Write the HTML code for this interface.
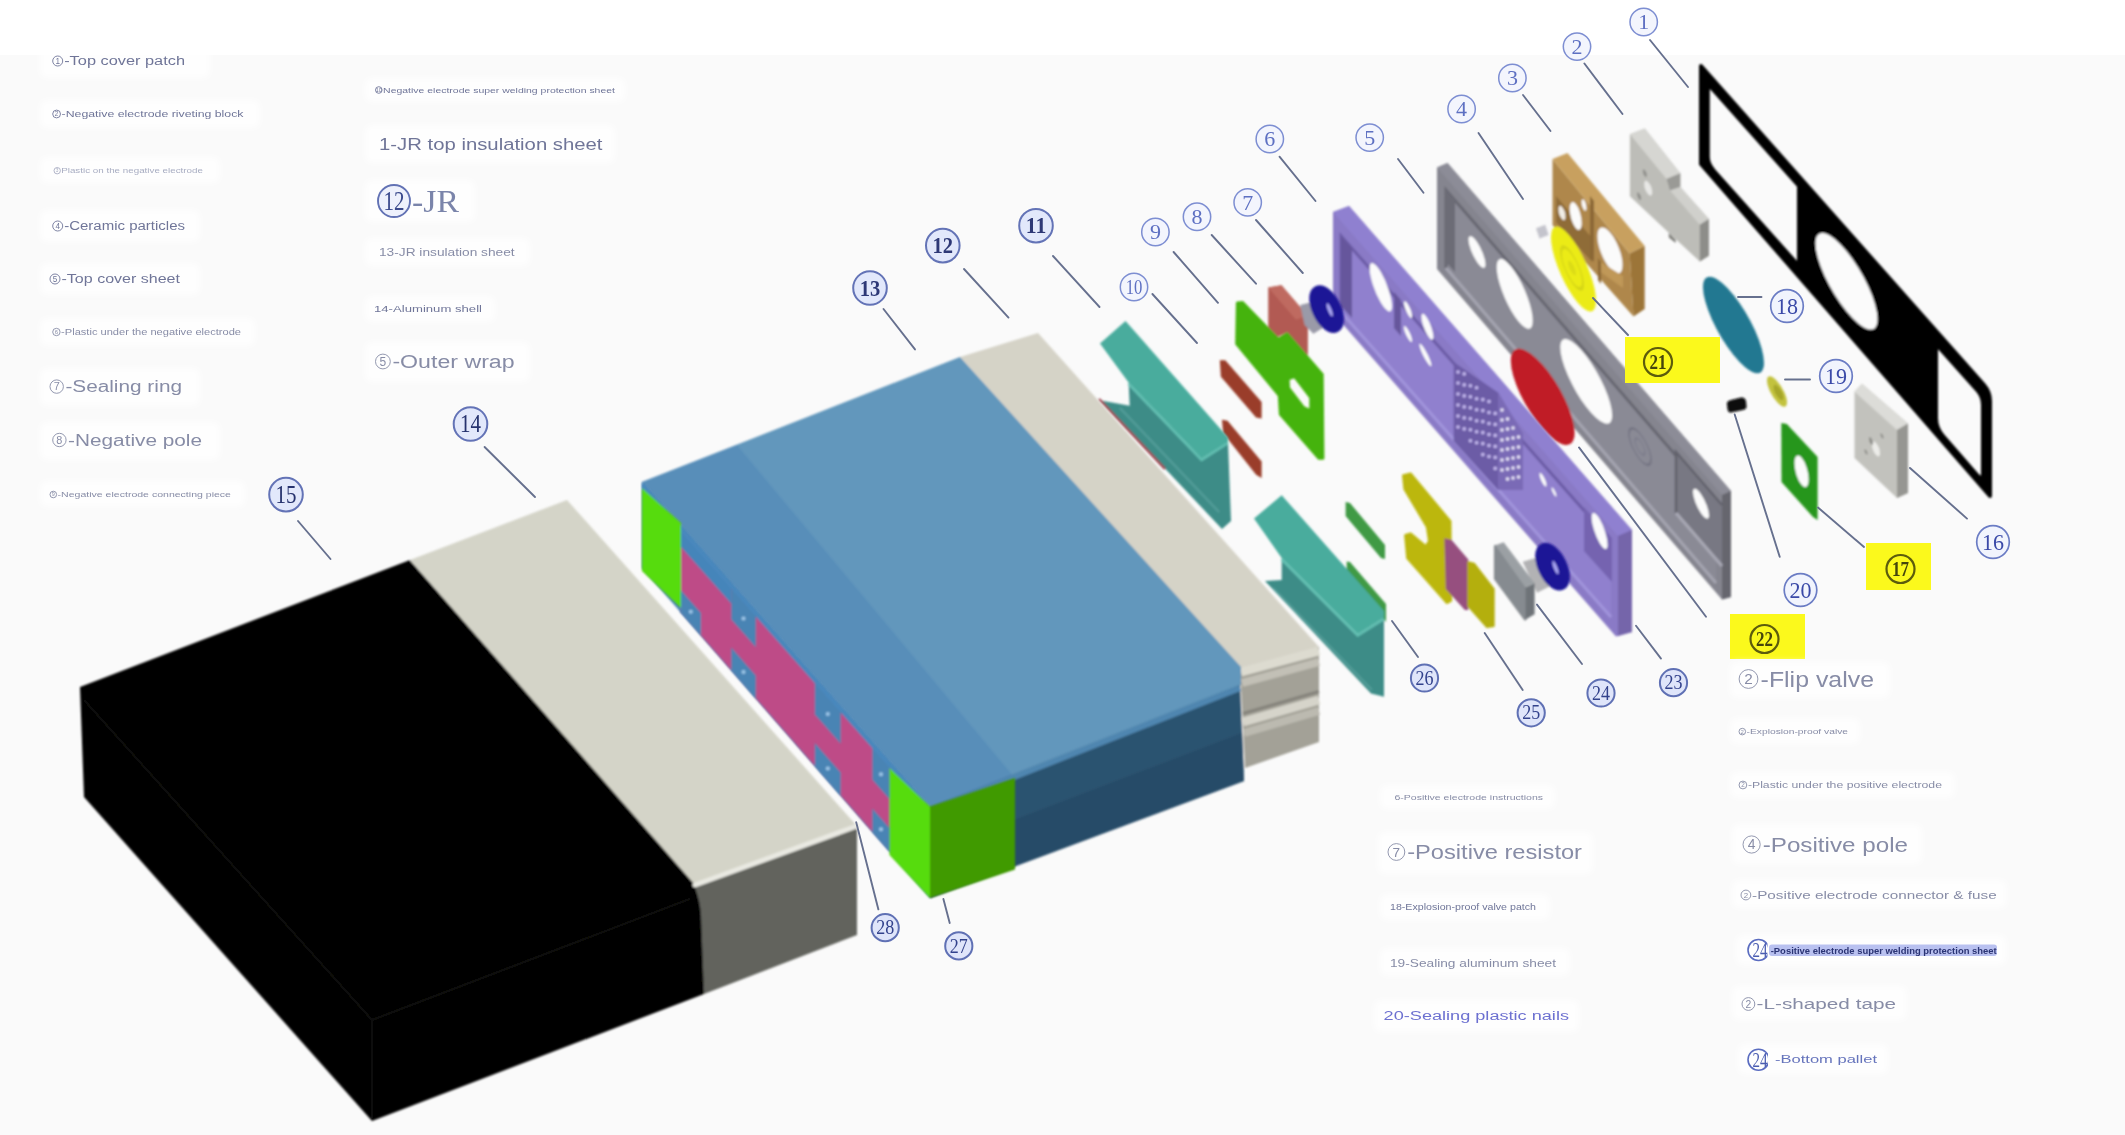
<!DOCTYPE html>
<html><head><meta charset="utf-8"><title>Cell exploded view</title>
<style>
html,body{margin:0;padding:0;background:#fff;}
body{width:2125px;height:1135px;overflow:hidden;font-family:"Liberation Sans",sans-serif;}
svg{display:block;}
text{font-family:"Liberation Sans",sans-serif;}
.se{font-family:"Liberation Serif",serif;}
</style></head><body>
<svg width="2125" height="1135" viewBox="0 0 2125 1135">
<defs>
<filter id="b1" x="-5%" y="-5%" width="110%" height="110%"><feGaussianBlur stdDeviation="0.9"/></filter>
<filter id="b2" x="-5%" y="-5%" width="110%" height="110%"><feGaussianBlur stdDeviation="1.2"/></filter>
<filter id="bt" x="-5%" y="-20%" width="110%" height="140%"><feGaussianBlur stdDeviation="0.55"/></filter>
<filter id="b3" x="-20%" y="-50%" width="140%" height="200%"><feGaussianBlur stdDeviation="3.5"/></filter>
</defs>
<rect x="0" y="0" width="2125" height="1135" fill="#ffffff"/>
<rect x="0" y="55" width="2125" height="1080" fill="#fafafa"/>
<g filter="url(#b1)">
<path fill-rule="evenodd" fill="#050505" stroke="#050505" stroke-width="4" stroke-linejoin="round" d="M1701,66 L1984,385 Q1990,392 1990,401 L1990,496 L1701,164 Z M1707.8,90 Q1707.8,84 1713,89.5 L1799,186 L1799,266 L1714,171 Q1707.8,164 1707.8,157 Z M1936,344 L1978,391 Q1983,397 1983,405 L1983,473 Q1983,482 1977,475 L1943,436 Q1936,428 1936,418 Z"/>
<circle r="1" transform="matrix(31.00,37.82,0,30.00,1846.5,281.3)" fill="#fbfbfb" />
<polygon points="1629.9,134.3 1644.8,128.6 1680.3,173.3 1680.3,187.0 1708.9,219.1 1708.9,255.7 1699.8,261.4 1668.8,232.8 1629.9,196.2" fill="#bdbdb8" />
<polygon points="1629.9,134.3 1644.8,128.6 1680.3,173.3 1666.6,179.0" fill="#d6d6d2" />
<polygon points="1666.6,179.0 1680.3,173.3 1680.3,187.0 1670.0,190.5" fill="#9a9a96" />
<polygon points="1670.0,190.5 1680.3,187.0 1708.9,219.1 1699.8,224.8" fill="#d0d0cc" />
<polygon points="1699.8,224.8 1708.9,219.1 1708.9,255.7 1699.8,261.4" fill="#8d8d89" />
<circle r="1" transform="matrix(4.00,4.40,0,6.00,1648.2,188.2)" fill="#e8e8e6" />
<circle r="1" transform="matrix(2.00,2.20,0,3.00,1639.1,196.2)" fill="#8f8f8b" />
<circle r="1" transform="matrix(2.00,2.20,0,3.00,1644.8,173.3)" fill="#8f8f8b" />
<polygon points="1668.8,232.8 1675.7,239.7 1675.7,243.1 1668.8,237.4" fill="#80807c" />
<polygon points="1552.5,159.0 1629.7,253.5 1633.5,316.5 1552.5,225.0" fill="#af874b" />
<polygon points="1552.5,159.0 1567.5,153.0 1644.7,246.0 1629.7,253.5" fill="#c8a05f" />
<polygon points="1629.7,253.5 1644.7,246.0 1644.7,309.0 1633.5,316.5" fill="#9c7438" />
<polygon points="1556.0,196.0 1592.0,238.0 1592.0,262.0 1556.0,222.0" fill="#8f6c38" />
<circle r="1" transform="matrix(6.00,6.90,0,12.00,1575.7,216.0)" fill="#fbfbfb" />
<circle r="1" transform="matrix(3.50,4.02,0,6.00,1562.0,213.0)" fill="#f1ede6" />
<circle r="1" transform="matrix(2.50,2.88,0,5.00,1584.0,205.0)" fill="#fbfbfb" />
<polygon points="1590.0,196.0 1594.0,201.0 1594.0,262.0 1590.0,258.0" fill="#8b6834" />
<circle r="1" transform="matrix(12.50,14.37,0,18.00,1610.0,250.5)" fill="#fbfbfb" />
<polygon points="1600.5,262.0 1623.0,276.0 1623.0,288.0 1600.5,272.0" fill="#c09858" />
<polygon points="1598.0,258.0 1601.0,262.0 1601.0,284.0 1598.0,280.0" fill="#8b6834" />
<polygon points="1536.0,228.2 1545.2,224.8 1548.6,235.1 1539.5,238.5" fill="#c4c4cc" />
<circle r="1" transform="matrix(22.50,31.72,0,28.30,1573.5,269.0)" fill="#ebeb16" />
<circle r="1" transform="matrix(11.00,15.51,0,14.00,1572.0,268.0)" fill="none" stroke="#d6d612" stroke-width="0.18"/>
<circle r="1" transform="matrix(4.00,5.64,0,5.00,1572.0,268.0)" fill="#dcdc12" />
<circle r="1" transform="matrix(30.50,37.82,0,30.00,1733.5,325.0)" fill="#237891" />
<circle r="1" transform="matrix(10.00,11.00,0,10.50,1777.0,391.5)" fill="#c2c23e" />
<circle r="1" transform="matrix(5.00,5.50,0,5.50,1778.5,392.5)" fill="#a6a62c" />
<path d="M1727,405 Q1726,401 1731,400 L1741,397.5 Q1745,397 1746,401 L1746.5,406 Q1747,409 1743,410 L1731,412.5 Q1728,413 1727.5,409 Z" fill="#0a0a0a"/>
<path fill-rule="evenodd" fill="#28961e" d="M1781.3,423 L1786.8,424 L1817.6,457 L1817.6,520 L1813,517 L1781.5,482 Z"/>
<circle r="1" transform="matrix(7.00,8.05,0,13.50,1801.6,471.3)" fill="#fbfbfb" />
<polygon points="1854.5,391.7 1862.0,383.8 1908.0,423.4 1908.0,493.0 1897.0,498.0 1854.5,458.0" fill="#c2c2bd" />
<polygon points="1854.5,391.7 1862.0,383.8 1908.0,423.4 1897.0,430.0" fill="#dcdcd8" />
<polygon points="1897.0,430.0 1908.0,423.4 1908.0,493.0 1897.0,498.0" fill="#969692" />
<circle r="1" transform="matrix(4.00,4.40,0,6.00,1876.0,449.0)" fill="#ecece9" />
<circle r="1" transform="matrix(2.00,2.20,0,3.00,1871.0,441.0)" fill="#8c8c88" />
<circle r="1" transform="matrix(1.50,1.65,0,2.00,1882.0,436.0)" fill="#8c8c88" />
<circle r="1" transform="matrix(1.50,1.65,0,2.00,1866.0,452.0)" fill="#8c8c88" />
</g>
<g filter="url(#b1)">
<polygon points="1437.0,167.5 1447.5,163.0 1731.0,491.0 1731.0,597.0 1722.0,599.5 1437.0,269.0" fill="#85858f" />
<polygon points="1437.0,167.5 1447.5,163.0 1731.0,491.0 1722.0,495.0" fill="#8c8c97" />
<polygon points="1722.0,495.0 1731.0,491.0 1731.0,597.0 1722.0,599.5" fill="#66666e" />
<polygon points="1446.0,190.0 1716.0,502.0 1716.0,583.0 1446.0,268.0" fill="#8a8a95" />
<path d="M1446,268 L1446,190 L1716,502" stroke="#686872" stroke-width="3" fill="none"/>
<path d="M1446,268 L1716,583" stroke="#a4a4b0" stroke-width="3" fill="none"/>
<polygon points="1446.0,190.0 1455.0,200.0 1455.0,272.0 1446.0,262.0" fill="#6c6c76" />
<circle r="1" transform="matrix(8.50,12.32,0,10.00,1477.0,252.0)" fill="#fbfbfb" />
<circle r="1" transform="matrix(18.00,26.82,0,22.40,1514.7,293.9)" fill="#fbfbfb" />
<circle r="1" transform="matrix(25.90,33.93,0,25.40,1586.2,381.4)" fill="#fbfbfb" />
<circle r="1" transform="matrix(11.00,12.71,0,13.00,1640.0,446.6)" fill="none" stroke="#767684" stroke-width="0.15"/>
<circle r="1" transform="matrix(5.00,5.78,0,6.00,1640.0,446.6)" fill="none" stroke="#7e7e8c" stroke-width="0.3"/>
<polygon points="1676.0,452.0 1722.0,505.0 1722.0,566.0 1676.0,513.0" fill="#787883" />
<path d="M1676,513 L1676,452 L1722,505" stroke="#62626c" stroke-width="2.5" fill="none"/>
<path d="M1676,513 L1722,566" stroke="#a8a8b4" stroke-width="3" fill="none"/>
<circle r="1" transform="matrix(8.00,11.60,0,9.50,1701.0,503.7)" fill="#fbfbfb" />
<circle r="1" transform="matrix(31.90,36.05,0,32.00,1542.7,396.8)" fill="#c01f27" />
</g>
<g filter="url(#b1)">
<polygon points="1333.0,212.0 1349.0,206.0 1632.0,530.0 1632.0,632.0 1616.0,636.5 1333.0,313.0" fill="#8a7ac6" />
<polygon points="1333.0,212.0 1349.0,206.0 1632.0,530.0 1618.0,536.0" fill="#8f80d0" />
<polygon points="1618.0,536.0 1632.0,530.0 1632.0,632.0 1618.0,636.0" fill="#7465aa" />
<polygon points="1341.0,236.0 1611.0,541.0 1611.0,617.0 1341.0,312.0" fill="#9080ce" />
<path d="M1341,312 L1341,236 L1611,541" stroke="#6c5ca6" stroke-width="3" fill="none"/>
<path d="M1341,312 L1611,617" stroke="#a194dc" stroke-width="3" fill="none"/>
<polygon points="1341.0,236.0 1352.0,248.0 1352.0,318.0 1341.0,306.0" fill="#66579c" />
<circle r="1" transform="matrix(11.20,18.93,0,15.20,1380.8,287.3)" fill="#fbfbfb" />
<polygon points="1394.0,292.0 1401.0,300.0 1401.0,336.0 1394.0,328.0" fill="#66579c" />
<circle r="1" transform="matrix(4.00,6.76,0,5.00,1408.0,309.6)" fill="#fbfbfb" />
<circle r="1" transform="matrix(6.00,10.14,0,8.20,1427.4,326.8)" fill="#fbfbfb" />
<circle r="1" transform="matrix(4.00,6.76,0,4.30,1408.0,334.0)" fill="#fbfbfb" />
<circle r="1" transform="matrix(6.00,10.14,0,4.60,1425.4,355.0)" fill="#fbfbfb" />
<polygon points="1453.7,362.0 1498.0,392.6 1522.6,433.0 1522.6,490.0 1498.0,490.0 1453.7,441.0" fill="#6c5ca6" />
<polygon points="1498.0,392.6 1522.6,433.0 1522.6,490.0 1498.0,490.0" fill="#7a6ab6" />
<circle cx="1458.0" cy="372.0" r="1.8" fill="#c6baf0"/>
<circle cx="1458.0" cy="383.0" r="1.8" fill="#c6baf0"/>
<circle cx="1458.0" cy="394.0" r="1.8" fill="#c6baf0"/>
<circle cx="1458.0" cy="405.0" r="1.8" fill="#c6baf0"/>
<circle cx="1458.0" cy="416.0" r="1.8" fill="#c6baf0"/>
<circle cx="1458.0" cy="427.0" r="1.8" fill="#c6baf0"/>
<circle cx="1464.2" cy="373.9" r="1.8" fill="#c6baf0"/>
<circle cx="1464.2" cy="384.9" r="1.8" fill="#c6baf0"/>
<circle cx="1464.2" cy="395.9" r="1.8" fill="#c6baf0"/>
<circle cx="1464.2" cy="406.9" r="1.8" fill="#c6baf0"/>
<circle cx="1464.2" cy="417.9" r="1.8" fill="#c6baf0"/>
<circle cx="1464.2" cy="428.9" r="1.8" fill="#c6baf0"/>
<circle cx="1470.4" cy="385.8" r="1.8" fill="#c6baf0"/>
<circle cx="1470.4" cy="396.8" r="1.8" fill="#c6baf0"/>
<circle cx="1470.4" cy="407.8" r="1.8" fill="#c6baf0"/>
<circle cx="1470.4" cy="418.8" r="1.8" fill="#c6baf0"/>
<circle cx="1470.4" cy="429.8" r="1.8" fill="#c6baf0"/>
<circle cx="1470.4" cy="440.8" r="1.8" fill="#c6baf0"/>
<circle cx="1476.6" cy="387.7" r="1.8" fill="#c6baf0"/>
<circle cx="1476.6" cy="398.7" r="1.8" fill="#c6baf0"/>
<circle cx="1476.6" cy="409.7" r="1.8" fill="#c6baf0"/>
<circle cx="1476.6" cy="420.7" r="1.8" fill="#c6baf0"/>
<circle cx="1476.6" cy="431.7" r="1.8" fill="#c6baf0"/>
<circle cx="1476.6" cy="442.7" r="1.8" fill="#c6baf0"/>
<circle cx="1482.8" cy="399.6" r="1.8" fill="#c6baf0"/>
<circle cx="1482.8" cy="410.6" r="1.8" fill="#c6baf0"/>
<circle cx="1482.8" cy="421.6" r="1.8" fill="#c6baf0"/>
<circle cx="1482.8" cy="432.6" r="1.8" fill="#c6baf0"/>
<circle cx="1482.8" cy="443.6" r="1.8" fill="#c6baf0"/>
<circle cx="1482.8" cy="454.6" r="1.8" fill="#c6baf0"/>
<circle cx="1489.0" cy="401.5" r="1.8" fill="#c6baf0"/>
<circle cx="1489.0" cy="412.5" r="1.8" fill="#c6baf0"/>
<circle cx="1489.0" cy="423.5" r="1.8" fill="#c6baf0"/>
<circle cx="1489.0" cy="434.5" r="1.8" fill="#c6baf0"/>
<circle cx="1489.0" cy="445.5" r="1.8" fill="#c6baf0"/>
<circle cx="1489.0" cy="456.5" r="1.8" fill="#c6baf0"/>
<circle cx="1495.2" cy="413.4" r="1.8" fill="#c6baf0"/>
<circle cx="1495.2" cy="424.4" r="1.8" fill="#c6baf0"/>
<circle cx="1495.2" cy="435.4" r="1.8" fill="#c6baf0"/>
<circle cx="1495.2" cy="446.4" r="1.8" fill="#c6baf0"/>
<circle cx="1495.2" cy="457.4" r="1.8" fill="#c6baf0"/>
<circle cx="1495.2" cy="468.4" r="1.8" fill="#c6baf0"/>
<circle cx="1502.0" cy="410.0" r="1.7" fill="#efeafc"/>
<circle cx="1502.0" cy="420.0" r="1.7" fill="#efeafc"/>
<circle cx="1502.0" cy="430.0" r="1.7" fill="#efeafc"/>
<circle cx="1502.0" cy="440.0" r="1.7" fill="#efeafc"/>
<circle cx="1502.0" cy="450.0" r="1.7" fill="#efeafc"/>
<circle cx="1502.0" cy="460.0" r="1.7" fill="#efeafc"/>
<circle cx="1502.0" cy="470.0" r="1.7" fill="#efeafc"/>
<circle cx="1507.5" cy="419.0" r="1.7" fill="#efeafc"/>
<circle cx="1507.5" cy="429.0" r="1.7" fill="#efeafc"/>
<circle cx="1507.5" cy="439.0" r="1.7" fill="#efeafc"/>
<circle cx="1507.5" cy="449.0" r="1.7" fill="#efeafc"/>
<circle cx="1507.5" cy="459.0" r="1.7" fill="#efeafc"/>
<circle cx="1507.5" cy="469.0" r="1.7" fill="#efeafc"/>
<circle cx="1507.5" cy="479.0" r="1.7" fill="#efeafc"/>
<circle cx="1513.0" cy="428.0" r="1.7" fill="#efeafc"/>
<circle cx="1513.0" cy="438.0" r="1.7" fill="#efeafc"/>
<circle cx="1513.0" cy="448.0" r="1.7" fill="#efeafc"/>
<circle cx="1513.0" cy="458.0" r="1.7" fill="#efeafc"/>
<circle cx="1513.0" cy="468.0" r="1.7" fill="#efeafc"/>
<circle cx="1513.0" cy="478.0" r="1.7" fill="#efeafc"/>
<circle cx="1518.5" cy="437.0" r="1.7" fill="#efeafc"/>
<circle cx="1518.5" cy="447.0" r="1.7" fill="#efeafc"/>
<circle cx="1518.5" cy="457.0" r="1.7" fill="#efeafc"/>
<circle cx="1518.5" cy="467.0" r="1.7" fill="#efeafc"/>
<circle cx="1518.5" cy="477.0" r="1.7" fill="#efeafc"/>
<circle r="1" transform="matrix(3.50,5.60,0,4.00,1543.0,479.7)" fill="#fbfbfb" />
<circle r="1" transform="matrix(2.50,4.00,0,2.50,1554.0,492.0)" fill="#fbfbfb" />
<polygon points="1584.0,507.0 1612.0,538.0 1612.0,582.0 1584.0,551.0" fill="#7464b0" />
<circle r="1" transform="matrix(8.00,13.52,0,11.90,1599.6,531.0)" fill="#fbfbfb" />
</g>
<g filter="url(#b1)">
<polygon points="1219.8,360.2 1225.3,360.2 1261.6,402.1 1261.6,418.6 1256.1,417.5 1220.9,376.7" fill="#9a3c2a" />
<polygon points="1222.0,419.7 1227.5,420.8 1261.6,461.6 1261.6,478.1 1256.1,474.8 1223.1,432.9" fill="#9a3c2a" />
<polygon points="1268.2,287.5 1281.5,285.3 1307.9,316.1 1307.9,355.8 1294.7,344.8 1287.0,332.6 1274.9,338.2 1268.2,327.1" fill="#b25a52" />
<polygon points="1268.2,287.5 1281.5,285.3 1307.9,316.1 1295.8,319.4" fill="#bf6a60" />
<polygon points="1300.2,305.1 1322.2,299.6 1331.1,322.7 1313.4,333.8 1304.6,324.9" fill="#9a9aa8" />
<ellipse cx="1326.6" cy="309.1" rx="10" ry="21" transform="rotate(-26 1326.6 309.1)" fill="#1e1496" stroke="#1e1496" stroke-width="9"/>
<ellipse cx="1329.7" cy="309.9" rx="1.8" ry="7" transform="rotate(-22 1329.7 309.9)" fill="#a9a6f2"/>
<path d="M1237.4,302.9 L1242.5,302.5 L1278.2,339.3 L1287.0,333.8 L1322.2,374.5 L1322.9,458.3 L1318.9,458.3 L1280.4,414.2 L1279.3,395.5 L1236.7,343.7 Z M1288.1,378.9 L1294.7,376.7 L1310.8,397.7 L1310.8,410.9 L1303.5,407.6 L1288.5,387.8 Z" fill="#45b30a" fill-rule="evenodd" stroke="#45b30a" stroke-width="3" stroke-linejoin="round"/>
</g>
<g filter="url(#b1)">
<polygon points="1403.5,475.6 1410.5,474.0 1450.0,521.4 1450.7,600.4 1447.0,602.5 1407.7,558.0 1405.6,535.5 1410.5,534.0 1426.0,546.8 1429.5,541.0 1427.4,527.0 1404.9,489.0" fill="#bcb70e" stroke="#bcb70e" stroke-width="3" stroke-linejoin="round"/>
<polygon points="1444.4,538.3 1451.4,539.7 1468.3,559.5 1468.3,610.0 1464.8,610.0 1445.8,589.0" fill="#96507f" />
<polygon points="1468.3,562.3 1474,563.7 1493.7,589 1493.7,626 1487,627 1468.3,606" fill="#b4af0c" stroke="#b4af0c" stroke-width="2" stroke-linejoin="round"/>
<polygon points="1522.7,561.8 1546.5,554.7 1556.0,583.2 1537.0,592.7" fill="#b2b2b4" />
<polygon points="1495.4,546.3 1525.1,588.0 1525.1,618.9 1495.4,578.5" fill="#868b90" stroke="#868b90" stroke-width="3" stroke-linejoin="round"/>
<polygon points="1495.4,545.2 1503.7,542.3 1534.6,583.2 1525.6,587.5" fill="#9ba0a4" />
<polygon points="1525.6,587.5 1534.6,583.2 1534.6,614.2 1525.6,619.4" fill="#6e7378" />
<ellipse cx="1552.5" cy="566.6" rx="10" ry="21" transform="rotate(-26 1552.5 566.6)" fill="#1e1496" stroke="#1e1496" stroke-width="9"/>
<ellipse cx="1555.5" cy="567.6" rx="1.8" ry="7" transform="rotate(-22 1555.5 567.6)" fill="#a9a6f2"/>
</g>
<g filter="url(#b1)">
<polygon points="1128.6,382.5 1201.6,458.6 1228.0,441.7 1231.0,521.0 1222.0,529.0 1101.0,400.5 1129.7,405.7" fill="#3c8c87" />
<polygon points="1125.5,321.0 1228.0,437.5 1228.0,442.0 1201.6,458.6 1128.6,382.5 1100.0,343.4" fill="#48ac9d" />
<path d="M1128.6,384 L1201.6,460 L1228,443" stroke="#62c0b2" stroke-width="2.5" fill="none"/>
<path d="M1120,408 L1219,512" stroke="#559e9a" stroke-width="2" fill="none"/>
<path d="M1099,399 L1165,469" stroke="#a04450" stroke-width="2.5" fill="none"/>
<polygon points="1345.6,502.0 1350.0,503.0 1385.0,545.0 1385.0,559.0 1381.0,558.0 1345.6,516.0" fill="#3f9a45" />
<polygon points="1346.7,561.4 1350.0,562.0 1386.0,604.0 1386.0,622.0 1346.7,574.0" fill="#3f9a45" />
<polygon points="1281.7,558.0 1357.7,634.0 1384.0,617.5 1384.0,696.8 1371.0,693.5 1265.0,581.0 1281.7,580.0" fill="#3c8c87" />
<polygon points="1281.7,495.3 1384.0,611.0 1384.0,617.5 1357.7,634.0 1281.7,558.0 1254.0,518.4" fill="#48ac9d" />
<path d="M1281.7,559.5 L1357.7,635.5 L1384,619" stroke="#62c0b2" stroke-width="2.5" fill="none"/>
<path d="M1273,588 L1372,690" stroke="#559e9a" stroke-width="2" fill="none"/>
</g>
<g filter="url(#b1)">
<polygon points="960.0,357.0 1038.0,333.0 1319.0,647.0 1240.0,668.0" fill="#d5d3c7" />
<polygon points="1240.0,668.0 1319.0,647.0 1319.0,742.0 1245.0,768.0" fill="#a3a197" />
<path d="M1241,672 L1319,651" stroke="#dddbd0" stroke-width="9" fill="none"/>
<path d="M1242,683 L1319,662" stroke="#c2c0b6" stroke-width="8" fill="none"/>
<path d="M1243,722 L1319,700" stroke="#d6d4ca" stroke-width="9" fill="none"/>
<path d="M1243,713.5 L1319,691.5" stroke="#85837b" stroke-width="3" fill="none"/>
<path d="M1244,733 L1319,711" stroke="#bcbab0" stroke-width="8" fill="none"/>
<polygon points="642.0,482.0 960.0,357.0 1241.0,667.0 1241.0,685.0 930.0,807.0" fill="#6297bc" />
<polygon points="642.0,482.0 737.0,445.0 1015.0,778.0 930.0,807.0" fill="#598eb9" />
<polygon points="642.0,482.0 930.0,807.0 930.0,898.0 642.0,568.0" fill="#4a84b4" />
<polygon points="930.0,807.0 1240.0,685.0 1244.0,781.0 930.0,898.0" fill="#2c5270" />
<polygon points="930.0,852.0 1242.0,733.0 1244.0,781.0 930.0,898.0" fill="#284c68" />
<path d="M930,810 L1240,688" stroke="#4f86b0" stroke-width="6" fill="none"/>
</g>
<g filter="url(#b1)">
<polygon points="680.6,530.8 889.7,766.9 889.7,851.8 680.6,612.2" fill="#be4b87" />
<polygon points="680.6,525.5 731.3,582.8 731.3,603.8 680.6,546.4" fill="#4585ba" />
<polygon points="680.6,589.7 701.0,613.0 701.0,635.6 680.6,612.2" fill="#4a84b4" />
<circle cx="690.8" cy="611.8" r="2" fill="#9cc6e8"/>
<polygon points="731.3,588.0 755.8,615.7 755.8,647.3 731.3,619.5" fill="#4a84b4" />
<polygon points="731.3,647.5 755.8,675.5 755.8,698.4 731.3,670.3" fill="#4a84b4" />
<circle cx="743.5" cy="618.5" r="2" fill="#9cc6e8"/>
<circle cx="743.5" cy="672.0" r="2" fill="#9cc6e8"/>
<polygon points="814.8,682.3 840.7,711.6 840.7,743.8 814.8,714.4" fill="#4a84b4" />
<polygon points="814.8,742.9 840.7,772.4 840.7,795.7 814.8,766.0" fill="#4a84b4" />
<circle cx="827.8" cy="713.9" r="2" fill="#9cc6e8"/>
<circle cx="827.8" cy="768.4" r="2" fill="#9cc6e8"/>
<polygon points="872.4,747.4 889.7,766.9 889.7,799.4 872.4,779.8" fill="#4a84b4" />
<polygon points="872.4,808.6 889.7,828.3 889.7,851.8 872.4,832.0" fill="#4a84b4" />
<circle cx="881.0" cy="774.3" r="2" fill="#9cc6e8"/>
<circle cx="881.0" cy="829.3" r="2" fill="#9cc6e8"/>
<polygon points="642.0,482.0 930.0,807.0 930.0,813.4 642.0,488.0" fill="#4a88bd" />
<polygon points="642.0,488.0 681.0,523.0 681.0,608.0 642.0,571.0" fill="#56dc0a" />
<polygon points="889.5,768.0 930.0,806.6 930.0,898.0 889.5,855.0" fill="#56dc0a" />
<polygon points="930.0,806.6 1015.0,778.0 1015.0,869.5 930.0,898.0" fill="#3f9a06" />
</g>
<g filter="url(#b1)">
<polygon points="80.0,687.0 410.0,560.0 696.0,884.0 704.0,994.0 372.0,1121.0 84.0,797.0" fill="#040403" />
<path d="M84,700 L372,1020 L700,895 M372,1020 L372,1118" stroke="#0d0d0b" stroke-width="2" fill="none"/>
<polygon points="410.0,560.0 567.0,500.0 857.0,826.0 695.0,885.0" fill="#d4d4c8" />
<polygon points="695.0,885.0 857.0,826.0 857.0,935.0 704.0,994.0" fill="#62635d" />
<path d="M695,885 L857,826" stroke="#e9e9e2" stroke-width="5" fill="none" stroke-linecap="round"/>
<path d="M695,888 Q700,900 701,915 L704,994 L694,994 L690,890 Z" fill="#040403"/>
</g>
<g filter="url(#bt)">
<rect x="1625" y="337" width="95" height="46" fill="#fbf91e"/>
<rect x="1866" y="543" width="65" height="47" fill="#fbf91e"/>
<rect x="1730" y="614" width="75" height="45" fill="#fbf91e"/>
<line x1="1650.0" y1="40.0" x2="1688.0" y2="87.0" stroke="#66708e" stroke-width="1.9" stroke-linecap="round"/>
<circle cx="1643.7" cy="22.0" r="13.7" fill="#f3f5fd" stroke="#7d8ed2" stroke-width="1.5"/>
<text class="se" x="1643.7" y="29.3" font-size="22" font-weight="normal" text-anchor="middle" fill="#5d6fc2">1</text>
<line x1="1584.4" y1="63.5" x2="1622.5" y2="114.0" stroke="#66708e" stroke-width="1.9" stroke-linecap="round"/>
<circle cx="1577.0" cy="46.6" r="13.7" fill="#f3f5fd" stroke="#7d8ed2" stroke-width="1.5"/>
<text class="se" x="1577.0" y="53.9" font-size="22" font-weight="normal" text-anchor="middle" fill="#5d6fc2">2</text>
<line x1="1523.0" y1="95.0" x2="1550.5" y2="131.0" stroke="#66708e" stroke-width="1.9" stroke-linecap="round"/>
<circle cx="1512.4" cy="78.0" r="13.7" fill="#f3f5fd" stroke="#7d8ed2" stroke-width="1.5"/>
<text class="se" x="1512.4" y="85.3" font-size="22" font-weight="normal" text-anchor="middle" fill="#5d6fc2">3</text>
<line x1="1478.5" y1="133.0" x2="1523.0" y2="199.0" stroke="#66708e" stroke-width="1.9" stroke-linecap="round"/>
<circle cx="1461.6" cy="109.0" r="13.7" fill="#f3f5fd" stroke="#7d8ed2" stroke-width="1.5"/>
<text class="se" x="1461.6" y="116.3" font-size="22" font-weight="normal" text-anchor="middle" fill="#5d6fc2">4</text>
<line x1="1398.0" y1="159.0" x2="1423.5" y2="192.7" stroke="#66708e" stroke-width="1.9" stroke-linecap="round"/>
<circle cx="1369.7" cy="137.6" r="13.7" fill="#f3f5fd" stroke="#7d8ed2" stroke-width="1.5"/>
<text class="se" x="1369.7" y="144.9" font-size="22" font-weight="normal" text-anchor="middle" fill="#5d6fc2">5</text>
<line x1="1279.5" y1="156.7" x2="1315.5" y2="201.0" stroke="#66708e" stroke-width="1.9" stroke-linecap="round"/>
<circle cx="1269.8" cy="139.0" r="13.7" fill="#f3f5fd" stroke="#7d8ed2" stroke-width="1.5"/>
<text class="se" x="1269.8" y="146.3" font-size="22" font-weight="normal" text-anchor="middle" fill="#5d6fc2">6</text>
<line x1="1256.0" y1="220.0" x2="1302.8" y2="273.0" stroke="#66708e" stroke-width="1.9" stroke-linecap="round"/>
<circle cx="1247.7" cy="202.4" r="13.7" fill="#f3f5fd" stroke="#7d8ed2" stroke-width="1.5"/>
<text class="se" x="1247.7" y="209.7" font-size="22" font-weight="normal" text-anchor="middle" fill="#5d6fc2">7</text>
<line x1="1211.7" y1="235.0" x2="1256.0" y2="283.7" stroke="#66708e" stroke-width="1.9" stroke-linecap="round"/>
<circle cx="1197.0" cy="216.8" r="13.7" fill="#f3f5fd" stroke="#7d8ed2" stroke-width="1.5"/>
<text class="se" x="1197.0" y="224.1" font-size="22" font-weight="normal" text-anchor="middle" fill="#5d6fc2">8</text>
<line x1="1173.6" y1="252.0" x2="1218.0" y2="302.8" stroke="#66708e" stroke-width="1.9" stroke-linecap="round"/>
<circle cx="1155.4" cy="232.0" r="13.7" fill="#f3f5fd" stroke="#7d8ed2" stroke-width="1.5"/>
<text class="se" x="1155.4" y="239.3" font-size="22" font-weight="normal" text-anchor="middle" fill="#5d6fc2">9</text>
<line x1="1152.4" y1="294.0" x2="1197.0" y2="343.0" stroke="#66708e" stroke-width="1.9" stroke-linecap="round"/>
<circle cx="1134.0" cy="287.0" r="13.7" fill="#f3f5fd" stroke="#7d8ed2" stroke-width="1.5"/>
<text class="se" x="1134.0" y="294.3" font-size="22" font-weight="normal" text-anchor="middle" fill="#5d6fc2" textLength="16.7" lengthAdjust="spacingAndGlyphs">10</text>
<line x1="1053.0" y1="256.0" x2="1099.5" y2="307.0" stroke="#66708e" stroke-width="1.9" stroke-linecap="round"/>
<circle cx="1036.0" cy="225.7" r="16.8" fill="#e2e8fb" stroke="#6373b6" stroke-width="2.0"/>
<text class="se" x="1036.0" y="233.3" font-size="23" font-weight="bold" text-anchor="middle" fill="#2d3976" textLength="20.5" lengthAdjust="spacingAndGlyphs">11</text>
<line x1="964.0" y1="269.0" x2="1008.5" y2="317.6" stroke="#66708e" stroke-width="1.9" stroke-linecap="round"/>
<circle cx="942.8" cy="245.6" r="16.8" fill="#e2e8fb" stroke="#6373b6" stroke-width="2.0"/>
<text class="se" x="942.8" y="253.2" font-size="23" font-weight="bold" text-anchor="middle" fill="#2d3976" textLength="20.5" lengthAdjust="spacingAndGlyphs">12</text>
<line x1="883.5" y1="309.0" x2="915.0" y2="349.4" stroke="#66708e" stroke-width="1.9" stroke-linecap="round"/>
<circle cx="870.0" cy="288.0" r="16.8" fill="#e2e8fb" stroke="#6373b6" stroke-width="2.0"/>
<text class="se" x="870.0" y="295.6" font-size="23" font-weight="bold" text-anchor="middle" fill="#2d3976" textLength="20.5" lengthAdjust="spacingAndGlyphs">13</text>
<line x1="484.6" y1="447.0" x2="535.0" y2="497.0" stroke="#66708e" stroke-width="1.9" stroke-linecap="round"/>
<circle cx="470.5" cy="424.0" r="16.8" fill="#e2e8fb" stroke="#6373b6" stroke-width="2.0"/>
<text class="se" x="470.5" y="432.2" font-size="25" font-weight="normal" text-anchor="middle" fill="#27336e" textLength="21.0" lengthAdjust="spacingAndGlyphs">14</text>
<line x1="298.0" y1="521.0" x2="330.5" y2="559.0" stroke="#66708e" stroke-width="1.9" stroke-linecap="round"/>
<circle cx="286.0" cy="494.6" r="16.8" fill="#e2e8fb" stroke="#6373b6" stroke-width="2.0"/>
<text class="se" x="286.0" y="502.9" font-size="25" font-weight="normal" text-anchor="middle" fill="#27336e" textLength="21.0" lengthAdjust="spacingAndGlyphs">15</text>
<line x1="1910.0" y1="468.0" x2="1967.0" y2="518.6" stroke="#66708e" stroke-width="1.9" stroke-linecap="round"/>
<circle cx="1993.0" cy="542.0" r="16.3" fill="#f1f4fd" stroke="#6b7cc4" stroke-width="1.7"/>
<text class="se" x="1993.0" y="549.9" font-size="24" font-weight="normal" text-anchor="middle" fill="#3a4aa8" textLength="22.0" lengthAdjust="spacingAndGlyphs">16</text>
<line x1="1818.0" y1="507.5" x2="1864.0" y2="547.0" stroke="#66708e" stroke-width="1.9" stroke-linecap="round"/>
<circle cx="1900.5" cy="569.0" r="14.0" fill="none" stroke="#5c5c08" stroke-width="2.2"/>
<text class="se" x="1900.5" y="575.9" font-size="21" font-weight="bold" text-anchor="middle" fill="#45450a" textLength="17.0" lengthAdjust="spacingAndGlyphs">17</text>
<line x1="1738.0" y1="297.0" x2="1761.5" y2="297.0" stroke="#66708e" stroke-width="1.9" stroke-linecap="round"/>
<circle cx="1787.0" cy="306.0" r="16.3" fill="#f1f4fd" stroke="#6b7cc4" stroke-width="1.7"/>
<text class="se" x="1787.0" y="313.9" font-size="24" font-weight="normal" text-anchor="middle" fill="#3a4aa8" textLength="22.0" lengthAdjust="spacingAndGlyphs">18</text>
<line x1="1785.0" y1="379.5" x2="1810.0" y2="379.5" stroke="#66708e" stroke-width="1.9" stroke-linecap="round"/>
<circle cx="1836.0" cy="376.0" r="16.3" fill="#f1f4fd" stroke="#6b7cc4" stroke-width="1.7"/>
<text class="se" x="1836.0" y="383.9" font-size="24" font-weight="normal" text-anchor="middle" fill="#3a4aa8" textLength="22.0" lengthAdjust="spacingAndGlyphs">19</text>
<line x1="1734.7" y1="414.5" x2="1779.7" y2="556.8" stroke="#66708e" stroke-width="1.9" stroke-linecap="round"/>
<circle cx="1800.5" cy="590.0" r="16.3" fill="#f1f4fd" stroke="#6b7cc4" stroke-width="1.7"/>
<text class="se" x="1800.5" y="597.9" font-size="24" font-weight="normal" text-anchor="middle" fill="#3a4aa8" textLength="22.0" lengthAdjust="spacingAndGlyphs">20</text>
<line x1="1593.0" y1="298.0" x2="1628.0" y2="335.0" stroke="#66708e" stroke-width="1.9" stroke-linecap="round"/>
<circle cx="1658.0" cy="362.0" r="14.0" fill="none" stroke="#5c5c08" stroke-width="2.2"/>
<text class="se" x="1658.0" y="368.9" font-size="21" font-weight="bold" text-anchor="middle" fill="#45450a" textLength="17.0" lengthAdjust="spacingAndGlyphs">21</text>
<line x1="1579.0" y1="447.4" x2="1706.0" y2="616.7" stroke="#66708e" stroke-width="1.9" stroke-linecap="round"/>
<circle cx="1764.5" cy="639.0" r="14.0" fill="none" stroke="#5c5c08" stroke-width="2.2"/>
<text class="se" x="1764.5" y="645.9" font-size="21" font-weight="bold" text-anchor="middle" fill="#45450a" textLength="17.0" lengthAdjust="spacingAndGlyphs">22</text>
<line x1="1636.0" y1="625.7" x2="1661.0" y2="658.6" stroke="#66708e" stroke-width="1.9" stroke-linecap="round"/>
<circle cx="1673.5" cy="682.7" r="13.6" fill="#dfe5fa" stroke="#5f70b4" stroke-width="2.0"/>
<text class="se" x="1673.5" y="689.3" font-size="20" font-weight="normal" text-anchor="middle" fill="#33428c" textLength="18.0" lengthAdjust="spacingAndGlyphs">23</text>
<line x1="1537.0" y1="604.6" x2="1582.0" y2="664.0" stroke="#66708e" stroke-width="1.9" stroke-linecap="round"/>
<circle cx="1601.0" cy="693.0" r="13.6" fill="#dfe5fa" stroke="#5f70b4" stroke-width="2.0"/>
<text class="se" x="1601.0" y="699.6" font-size="20" font-weight="normal" text-anchor="middle" fill="#33428c" textLength="18.0" lengthAdjust="spacingAndGlyphs">24</text>
<line x1="1484.7" y1="633.0" x2="1522.7" y2="690.0" stroke="#66708e" stroke-width="1.9" stroke-linecap="round"/>
<circle cx="1531.2" cy="712.8" r="13.6" fill="#dfe5fa" stroke="#5f70b4" stroke-width="2.0"/>
<text class="se" x="1531.2" y="719.4" font-size="20" font-weight="normal" text-anchor="middle" fill="#33428c" textLength="18.0" lengthAdjust="spacingAndGlyphs">25</text>
<line x1="1392.0" y1="621.0" x2="1418.0" y2="657.0" stroke="#66708e" stroke-width="1.9" stroke-linecap="round"/>
<circle cx="1424.5" cy="678.0" r="13.6" fill="#dfe5fa" stroke="#5f70b4" stroke-width="2.0"/>
<text class="se" x="1424.5" y="684.6" font-size="20" font-weight="normal" text-anchor="middle" fill="#33428c" textLength="18.0" lengthAdjust="spacingAndGlyphs">26</text>
<line x1="943.4" y1="899.0" x2="949.7" y2="923.0" stroke="#66708e" stroke-width="1.9" stroke-linecap="round"/>
<circle cx="958.8" cy="945.9" r="13.6" fill="#dfe5fa" stroke="#5f70b4" stroke-width="2.0"/>
<text class="se" x="958.8" y="952.5" font-size="20" font-weight="normal" text-anchor="middle" fill="#33428c" textLength="18.0" lengthAdjust="spacingAndGlyphs">27</text>
<line x1="856.2" y1="822.2" x2="878.4" y2="909.4" stroke="#66708e" stroke-width="1.9" stroke-linecap="round"/>
<circle cx="885.2" cy="927.7" r="13.6" fill="#dfe5fa" stroke="#5f70b4" stroke-width="2.0"/>
<text class="se" x="885.2" y="934.3" font-size="20" font-weight="normal" text-anchor="middle" fill="#33428c" textLength="18.0" lengthAdjust="spacingAndGlyphs">28</text>
</g>
<rect x="40.0" y="44.0" width="170.0" height="34.0" rx="6" fill="#ffffff" opacity="0.8" filter="url(#b3)"/>
<rect x="40.0" y="100.0" width="220.0" height="28.0" rx="6" fill="#ffffff" opacity="0.8" filter="url(#b3)"/>
<rect x="40.0" y="157.0" width="180.0" height="26.0" rx="6" fill="#ffffff" opacity="0.8" filter="url(#b3)"/>
<rect x="40.0" y="210.0" width="160.0" height="32.0" rx="6" fill="#ffffff" opacity="0.8" filter="url(#b3)"/>
<rect x="40.0" y="263.0" width="160.0" height="32.0" rx="6" fill="#ffffff" opacity="0.8" filter="url(#b3)"/>
<rect x="40.0" y="318.0" width="215.0" height="28.0" rx="6" fill="#ffffff" opacity="0.8" filter="url(#b3)"/>
<rect x="40.0" y="368.0" width="160.0" height="38.0" rx="6" fill="#ffffff" opacity="0.8" filter="url(#b3)"/>
<rect x="40.0" y="422.0" width="180.0" height="38.0" rx="6" fill="#ffffff" opacity="0.8" filter="url(#b3)"/>
<rect x="40.0" y="481.0" width="205.0" height="26.0" rx="6" fill="#ffffff" opacity="0.8" filter="url(#b3)"/>
<rect x="365.0" y="78.0" width="260.0" height="24.0" rx="6" fill="#ffffff" opacity="0.8" filter="url(#b3)"/>
<rect x="365.0" y="125.0" width="250.0" height="38.0" rx="6" fill="#ffffff" opacity="0.8" filter="url(#b3)"/>
<rect x="365.0" y="180.0" width="110.0" height="42.0" rx="6" fill="#ffffff" opacity="0.8" filter="url(#b3)"/>
<rect x="365.0" y="238.0" width="165.0" height="28.0" rx="6" fill="#ffffff" opacity="0.8" filter="url(#b3)"/>
<rect x="365.0" y="296.0" width="130.0" height="26.0" rx="6" fill="#ffffff" opacity="0.8" filter="url(#b3)"/>
<rect x="365.0" y="342.0" width="165.0" height="40.0" rx="6" fill="#ffffff" opacity="0.8" filter="url(#b3)"/>
<rect x="1380.0" y="785.0" width="175.0" height="24.0" rx="6" fill="#ffffff" opacity="0.8" filter="url(#b3)"/>
<rect x="1378.0" y="832.0" width="215.0" height="42.0" rx="6" fill="#ffffff" opacity="0.8" filter="url(#b3)"/>
<rect x="1380.0" y="894.0" width="170.0" height="26.0" rx="6" fill="#ffffff" opacity="0.8" filter="url(#b3)"/>
<rect x="1380.0" y="948.0" width="190.0" height="28.0" rx="6" fill="#ffffff" opacity="0.8" filter="url(#b3)"/>
<rect x="1374.0" y="1000.0" width="205.0" height="32.0" rx="6" fill="#ffffff" opacity="0.8" filter="url(#b3)"/>
<rect x="1730.0" y="662.0" width="160.0" height="36.0" rx="6" fill="#ffffff" opacity="0.8" filter="url(#b3)"/>
<rect x="1730.0" y="718.0" width="130.0" height="26.0" rx="6" fill="#ffffff" opacity="0.8" filter="url(#b3)"/>
<rect x="1730.0" y="772.0" width="225.0" height="26.0" rx="6" fill="#ffffff" opacity="0.8" filter="url(#b3)"/>
<rect x="1732.0" y="824.0" width="190.0" height="40.0" rx="6" fill="#ffffff" opacity="0.8" filter="url(#b3)"/>
<rect x="1732.0" y="880.0" width="275.0" height="28.0" rx="6" fill="#ffffff" opacity="0.8" filter="url(#b3)"/>
<rect x="1736.0" y="935.0" width="270.0" height="30.0" rx="6" fill="#ffffff" opacity="0.8" filter="url(#b3)"/>
<rect x="1732.0" y="986.0" width="175.0" height="34.0" rx="6" fill="#ffffff" opacity="0.8" filter="url(#b3)"/>
<rect x="1738.0" y="1044.0" width="150.0" height="30.0" rx="6" fill="#ffffff" opacity="0.8" filter="url(#b3)"/>
<g filter="url(#bt)" opacity="1.00">
<circle cx="57.7" cy="61.0" r="5.0" fill="none" stroke="#6f7598" stroke-width="0.9"/>
<text x="57.7" y="63.9" font-size="8.2" text-anchor="middle" fill="#6f7598">1</text>
<text  x="64.2" y="65.2" font-size="12.0" font-weight="normal" fill="#6f7598" textLength="120.8" lengthAdjust="spacingAndGlyphs">-Top cover patch</text>
</g>
<g filter="url(#bt)" opacity="1.00">
<circle cx="56.6" cy="114.0" r="3.9" fill="none" stroke="#6f7598" stroke-width="0.9"/>
<text x="56.6" y="116.2" font-size="6.3" text-anchor="middle" fill="#6f7598">2</text>
<text  x="61.6" y="117.3" font-size="9.3" font-weight="normal" fill="#6f7598" textLength="181.9" lengthAdjust="spacingAndGlyphs">-Negative electrode riveting block</text>
</g>
<g filter="url(#bt)" opacity="1.00">
<circle cx="57.2" cy="170.7" r="3.2" fill="none" stroke="#a8adc2" stroke-width="0.9"/>
<text x="57.2" y="172.4" font-size="4.8" text-anchor="middle" fill="#a8adc2">3</text>
<text  x="61.2" y="173.1" font-size="7.0" font-weight="normal" fill="#a8adc2" textLength="141.8" lengthAdjust="spacingAndGlyphs">Plastic on the negative electrode</text>
</g>
<g filter="url(#bt)" opacity="1.00">
<circle cx="57.7" cy="226.0" r="5.0" fill="none" stroke="#6f7598" stroke-width="0.9"/>
<text x="57.7" y="228.9" font-size="8.2" text-anchor="middle" fill="#6f7598">4</text>
<text  x="64.2" y="230.2" font-size="12.0" font-weight="normal" fill="#6f7598" textLength="120.8" lengthAdjust="spacingAndGlyphs">-Ceramic particles</text>
</g>
<g filter="url(#bt)" opacity="1.00">
<circle cx="55.0" cy="279.0" r="5.0" fill="none" stroke="#6f7598" stroke-width="0.9"/>
<text x="55.0" y="281.9" font-size="8.2" text-anchor="middle" fill="#6f7598">5</text>
<text  x="61.5" y="283.2" font-size="12.0" font-weight="normal" fill="#6f7598" textLength="118.5" lengthAdjust="spacingAndGlyphs">-Top cover sheet</text>
</g>
<g filter="url(#bt)" opacity="1.00">
<circle cx="56.4" cy="332.0" r="3.7" fill="none" stroke="#878ca6" stroke-width="0.9"/>
<text x="56.4" y="334.1" font-size="6.0" text-anchor="middle" fill="#878ca6">6</text>
<text  x="61.1" y="335.1" font-size="8.8" font-weight="normal" fill="#878ca6" textLength="179.9" lengthAdjust="spacingAndGlyphs">-Plastic under the negative electrode</text>
</g>
<g filter="url(#bt)" opacity="1.00">
<circle cx="56.7" cy="386.6" r="6.7" fill="none" stroke="#878ca6" stroke-width="0.9"/>
<text x="56.7" y="390.4" font-size="10.9" text-anchor="middle" fill="#878ca6">7</text>
<text  x="65.4" y="392.2" font-size="16.0" font-weight="normal" fill="#878ca6" textLength="116.6" lengthAdjust="spacingAndGlyphs">-Sealing ring</text>
</g>
<g filter="url(#bt)" opacity="1.00">
<circle cx="59.4" cy="440.0" r="6.7" fill="none" stroke="#878ca6" stroke-width="0.9"/>
<text x="59.4" y="443.8" font-size="10.9" text-anchor="middle" fill="#878ca6">8</text>
<text  x="68.1" y="445.6" font-size="16.0" font-weight="normal" fill="#878ca6" textLength="133.9" lengthAdjust="spacingAndGlyphs">-Negative pole</text>
</g>
<g filter="url(#bt)" opacity="1.00">
<circle cx="53.3" cy="494.5" r="3.3" fill="none" stroke="#878ca6" stroke-width="0.9"/>
<text x="53.3" y="496.4" font-size="5.4" text-anchor="middle" fill="#878ca6">9</text>
<text  x="57.6" y="497.3" font-size="7.9" font-weight="normal" fill="#878ca6" textLength="173.4" lengthAdjust="spacingAndGlyphs">-Negative electrode connecting piece</text>
</g>
<g filter="url(#bt)" opacity="1.00">
<circle cx="378.8" cy="90.0" r="3.3" fill="none" stroke="#6f7598" stroke-width="0.9"/>
<text x="378.8" y="91.9" font-size="5.4" text-anchor="middle" fill="#6f7598">10</text>
<text  x="383.1" y="92.8" font-size="7.9" font-weight="normal" fill="#6f7598" textLength="231.9" lengthAdjust="spacingAndGlyphs">Negative electrode super welding protection sheet</text>
</g>
<g filter="url(#bt)" opacity="1.00">
<text  x="379.0" y="149.9" font-size="16.8" font-weight="normal" fill="#6f7598" textLength="223.5" lengthAdjust="spacingAndGlyphs">1-JR top insulation sheet</text>
</g>
<g filter="url(#bt)">
<circle cx="394" cy="201" r="16" fill="#eef1fc" stroke="#6272b4" stroke-width="1.9"/>
<text class="se" x="394" y="210" font-size="27" text-anchor="middle" fill="#3a4a8c" textLength="21" lengthAdjust="spacingAndGlyphs">12</text>
<text class="se" x="412" y="211.5" font-size="31" fill="#7a84aa" textLength="47" lengthAdjust="spacingAndGlyphs">-JR</text>
</g>
<g filter="url(#bt)" opacity="1.00">
<text  x="379.0" y="256.2" font-size="10.7" font-weight="normal" fill="#878ca6" textLength="135.6" lengthAdjust="spacingAndGlyphs">13-JR insulation sheet</text>
</g>
<g filter="url(#bt)" opacity="1.00">
<text  x="374.0" y="312.4" font-size="9.8" font-weight="normal" fill="#6f7598" textLength="108.0" lengthAdjust="spacingAndGlyphs">14-Aluminum shell</text>
</g>
<g filter="url(#bt)" opacity="1.00">
<circle cx="382.9" cy="361.5" r="7.4" fill="none" stroke="#878ca6" stroke-width="0.9"/>
<text x="382.9" y="365.7" font-size="12.0" text-anchor="middle" fill="#878ca6">5</text>
<text  x="392.4" y="367.7" font-size="17.6" font-weight="normal" fill="#878ca6" textLength="122.2" lengthAdjust="spacingAndGlyphs">-Outer wrap</text>
</g>
<g filter="url(#bt)" opacity="1.00">
<text  x="1394.5" y="799.8" font-size="7.9" font-weight="normal" fill="#878ca6" textLength="148.5" lengthAdjust="spacingAndGlyphs">6-Positive electrode instructions</text>
</g>
<g filter="url(#bt)" opacity="1.00">
<circle cx="1396.4" cy="852.0" r="8.4" fill="none" stroke="#878ca6" stroke-width="0.9"/>
<text x="1396.4" y="856.8" font-size="13.6" text-anchor="middle" fill="#878ca6">7</text>
<text  x="1407.2" y="859.0" font-size="20.0" font-weight="normal" fill="#878ca6" textLength="174.8" lengthAdjust="spacingAndGlyphs">-Positive resistor</text>
</g>
<g filter="url(#bt)" opacity="1.00">
<text  x="1390.0" y="910.1" font-size="8.8" font-weight="normal" fill="#6f7598" textLength="146.0" lengthAdjust="spacingAndGlyphs">18-Explosion-proof valve patch</text>
</g>
<g filter="url(#bt)" opacity="1.00">
<text  x="1390.0" y="966.5" font-size="10.8" font-weight="normal" fill="#878ca6" textLength="166.0" lengthAdjust="spacingAndGlyphs">19-Sealing aluminum sheet</text>
</g>
<g filter="url(#bt)" opacity="1.00">
<text  x="1383.6" y="1020.2" font-size="12.0" font-weight="normal" fill="#6c70d0" textLength="185.4" lengthAdjust="spacingAndGlyphs">20-Sealing plastic nails</text>
</g>
<g filter="url(#bt)" opacity="1.00">
<circle cx="1748.5" cy="679.0" r="9.4" fill="none" stroke="#878ca6" stroke-width="0.9"/>
<text x="1748.5" y="684.4" font-size="15.3" text-anchor="middle" fill="#878ca6">2</text>
<text  x="1760.6" y="686.9" font-size="22.5" font-weight="normal" fill="#878ca6" textLength="113.4" lengthAdjust="spacingAndGlyphs">-Flip valve</text>
</g>
<g filter="url(#bt)" opacity="1.00">
<circle cx="1742.3" cy="731.6" r="3.3" fill="none" stroke="#878ca6" stroke-width="0.9"/>
<text x="1742.3" y="733.5" font-size="5.4" text-anchor="middle" fill="#878ca6">2</text>
<text  x="1746.6" y="734.4" font-size="7.9" font-weight="normal" fill="#878ca6" textLength="101.4" lengthAdjust="spacingAndGlyphs">-Explosion-proof valve</text>
</g>
<g filter="url(#bt)" opacity="1.00">
<circle cx="1742.9" cy="785.0" r="3.9" fill="none" stroke="#878ca6" stroke-width="0.9"/>
<text x="1742.9" y="787.2" font-size="6.3" text-anchor="middle" fill="#878ca6">2</text>
<text  x="1747.9" y="788.3" font-size="9.3" font-weight="normal" fill="#878ca6" textLength="194.1" lengthAdjust="spacingAndGlyphs">-Plastic under the positive electrode</text>
</g>
<g filter="url(#bt)" opacity="1.00">
<circle cx="1751.6" cy="844.5" r="8.6" fill="none" stroke="#878ca6" stroke-width="0.9"/>
<text x="1751.6" y="849.4" font-size="13.9" text-anchor="middle" fill="#878ca6">4</text>
<text  x="1762.7" y="851.7" font-size="20.5" font-weight="normal" fill="#878ca6" textLength="145.3" lengthAdjust="spacingAndGlyphs">-Positive pole</text>
</g>
<g filter="url(#bt)" opacity="1.00">
<circle cx="1745.9" cy="895.0" r="4.9" fill="none" stroke="#878ca6" stroke-width="0.9"/>
<text x="1745.9" y="897.8" font-size="7.9" text-anchor="middle" fill="#878ca6">2</text>
<text  x="1752.1" y="899.1" font-size="11.6" font-weight="normal" fill="#878ca6" textLength="244.6" lengthAdjust="spacingAndGlyphs">-Positive electrode connector &amp; fuse</text>
</g>
<g filter="url(#bt)" opacity="1.00">
<circle cx="1748.4" cy="1004.0" r="6.4" fill="none" stroke="#878ca6" stroke-width="0.9"/>
<text x="1748.4" y="1007.6" font-size="10.3" text-anchor="middle" fill="#878ca6">2</text>
<text  x="1756.6" y="1009.3" font-size="15.2" font-weight="normal" fill="#878ca6" textLength="139.4" lengthAdjust="spacingAndGlyphs">-L-shaped tape</text>
</g>
<g filter="url(#bt)">
<rect x="1769" y="944.5" width="228" height="11.5" rx="3" fill="#b9c1f0"/>
<clipPath id="c24a"><rect x="1745" y="936" width="22.5" height="30"/></clipPath>
<g clip-path="url(#c24a)"><circle cx="1758.5" cy="950" r="10.5" fill="none" stroke="#5a6cc0" stroke-width="1.6"/><text class="se" x="1760" y="957" font-size="21" text-anchor="middle" fill="#4a5cb0" textLength="15" lengthAdjust="spacingAndGlyphs">24</text></g>
<text x="1770.7" y="953.7" font-size="9.5" font-weight="bold" fill="#2c3474" textLength="226" lengthAdjust="spacingAndGlyphs">-Positive electrode super welding protection sheet</text>
<clipPath id="c24b"><rect x="1745" y="1045" width="22.5" height="30"/></clipPath>
<g clip-path="url(#c24b)"><circle cx="1758.5" cy="1059.7" r="10.5" fill="none" stroke="#5a6cc0" stroke-width="1.6"/><text class="se" x="1760" y="1066.7" font-size="21" text-anchor="middle" fill="#4a5cb0" textLength="15" lengthAdjust="spacingAndGlyphs">24</text></g>
</g>
<g filter="url(#bt)" opacity="1.00">
<text  x="1775.0" y="1063.3" font-size="10.3" font-weight="normal" fill="#6674bc" textLength="102.0" lengthAdjust="spacingAndGlyphs">-Bottom pallet</text>
</g>
</svg>
</body></html>
